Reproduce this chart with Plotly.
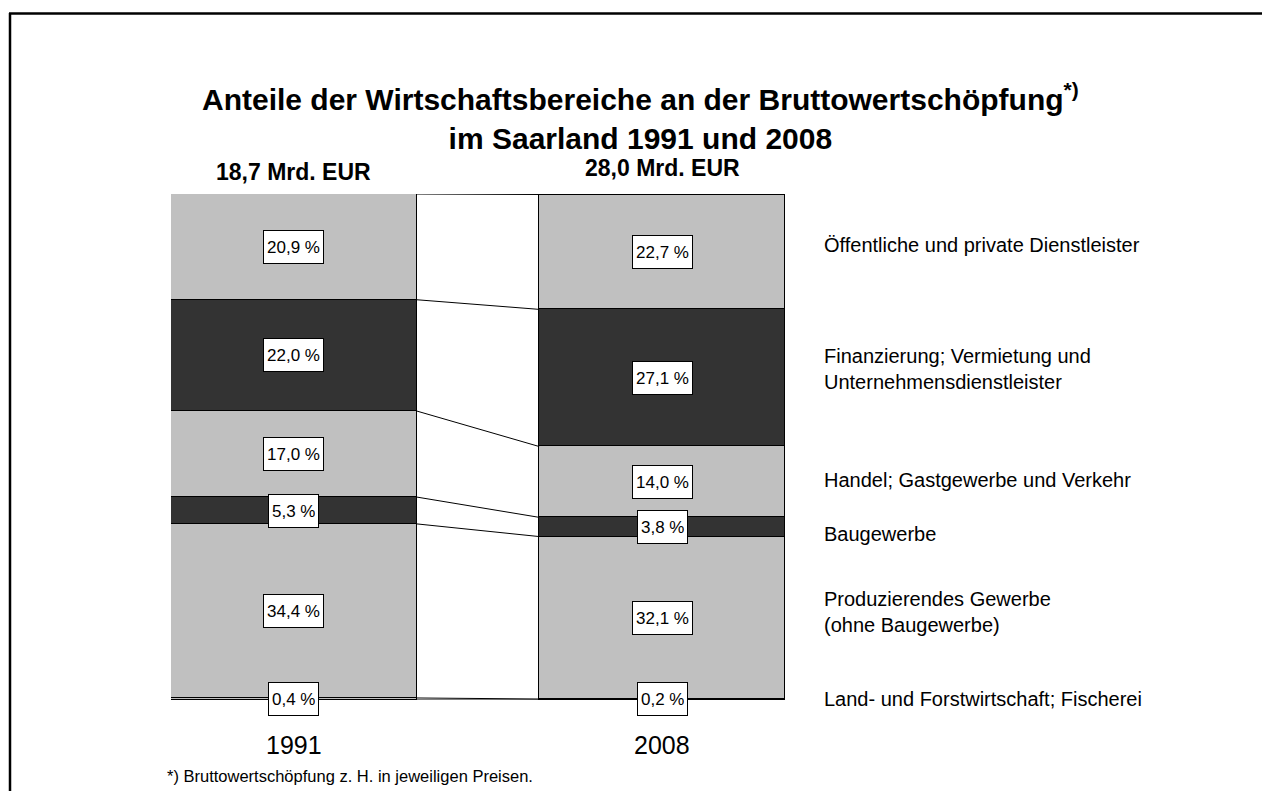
import plotly.graph_objects as go

# ---- data ----
years = ["1991", "2008"]
totals = ["18,7 Mrd. EUR", "28,0 Mrd. EUR"]
sectors = [
    "Land- und Forstwirtschaft; Fischerei",
    "Produzierendes Gewerbe<br>(ohne Baugewerbe)",
    "Baugewerbe",
    "Handel; Gastgewerbe und Verkehr",
    "Finanzierung; Vermietung und<br>Unternehmensdienstleister",
    "Öffentliche und private Dienstleister",
]
share_1991 = [0.4, 34.4, 5.3, 17.0, 22.0, 20.9]
share_2008 = [0.2, 32.1, 3.8, 14.0, 27.1, 22.7]
sector_colors = ["#C0C0C0", "#C0C0C0", "#333333", "#C0C0C0", "#333333", "#C0C0C0"]
label_yshift = [0, 6, -7, 2, 9, 7]  # fine placement of the sector names (pixels)
footnote = "*) Bruttowertschöpfung z. H. in jeweiligen Preisen."

# ---- layout geometry (screen pixels; page body adds an 8px offset) ----
W, H = 1254, 783
OFF = 8
ML, MT = 171 - OFF, 194 - OFF
PW, PH = 614, 506
MR, MB = W - ML - PW, H - MT - PH
BAR_W = 0.668
FONT = "Liberation Sans, Arial, sans-serif"


def px_x(px):
    return (px - OFF - ML) / PW


def px_y(py):
    return (MT + PH - (py - OFF)) / PH


def fmt(v):
    return f"{v:.1f}".replace(".", ",") + " %"


fig = go.Figure()
xs = [0, 1]
series = [share_1991, share_2008]

# stacked bars
for i, name in enumerate(sectors):
    fig.add_trace(go.Bar(
        x=xs, y=[share_1991[i], share_2008[i]], width=BAR_W,
        marker=dict(color=sector_colors[i], line=dict(color="#000000", width=1.5)),
        name=name, showlegend=False, hoverinfo="skip",
    ))

# connector lines between the bars
cum = [[0.0], [0.0]]
for k in range(2):
    for v in series[k]:
        cum[k].append(cum[k][-1] + v)
for j in range(len(sectors) + 1):
    fig.add_trace(go.Scatter(
        x=[BAR_W / 2, 1 - BAR_W / 2], y=[cum[0][j], cum[1][j]],
        mode="lines", line=dict(color="#000000", width=1),
        showlegend=False, hoverinfo="skip",
    ))

annotations = []
# value labels
for k in range(2):
    for i, v in enumerate(series[k]):
        yc = cum[k][i] + v / 2
        annotations.append(dict(
            x=xs[k], y=yc, xref="x", yref="y", text=fmt(v), showarrow=False,
            xanchor="center", yanchor="middle", height=26,
            font=dict(family=FONT, size=17, color="#000000"),
            bgcolor="#FFFFFF", bordercolor="#000000", borderwidth=1, borderpad=3,
        ))

# sector names on the right (aligned to 2008 segments)
for i, name in enumerate(sectors):
    yc = cum[1][i] + share_2008[i] / 2
    annotations.append(dict(
        x=px_x(822), y=yc, xref="paper", yref="y", text=name, showarrow=False,
        xanchor="left", yanchor="middle", align="left", yshift=label_yshift[i],
        font=dict(family=FONT, size=20, color="#000000"),
    ))

# totals above bars
for k, t in enumerate(totals):
    annotations.append(dict(
        x=xs[k], y=px_y(172 - 4 * k), xref="x", yref="paper", text=f"<b>{t}</b>",
        showarrow=False, xanchor="center", yanchor="middle",
        font=dict(family=FONT, size=23, color="#000000"),
    ))

# year labels
for k, yr in enumerate(years):
    annotations.append(dict(
        x=xs[k], y=px_y(745), xref="x", yref="paper", text=yr, showarrow=False,
        xanchor="center", yanchor="middle",
        font=dict(family=FONT, size=25, color="#000000"),
    ))

# title
annotations.append(dict(
    x=px_x(640), y=px_y(116), xref="paper", yref="paper",
    text="<b>Anteile der Wirtschaftsbereiche an der Bruttowertschöpfung<sup>*)</sup></b><br><b>im Saarland 1991 und 2008</b>",
    showarrow=False, xanchor="center", yanchor="middle",
    font=dict(family=FONT, size=30, color="#000000"),
))

# footnote
annotations.append(dict(
    x=px_x(165), y=px_y(776), xref="paper", yref="paper", text=footnote,
    xanchor="left", yanchor="middle", showarrow=False,
    font=dict(family=FONT, size=16.5, color="#000000"),
))

# outer frame (top and left edges)
shapes = [
    dict(type="line", xref="paper", yref="paper", x0=px_x(10), x1=px_x(10),
         y0=px_y(13), y1=px_y(820), line=dict(color="#000000", width=2.5)),
    dict(type="line", xref="paper", yref="paper", x0=px_x(9), x1=px_x(1290),
         y0=px_y(13.5), y1=px_y(13.5), line=dict(color="#000000", width=2.5)),
]

fig.update_layout(
    width=W, height=H,
    margin=dict(l=ML, r=MR, t=MT, b=MB, autoexpand=False),
    paper_bgcolor="#FFFFFF", plot_bgcolor="#FFFFFF",
    barmode="stack", bargap=0,
    xaxis=dict(range=[-BAR_W / 2, 1 + BAR_W / 2], showticklabels=False, showgrid=False,
               zeroline=False, showline=False, fixedrange=True),
    yaxis=dict(range=[0, 100], showticklabels=False, showgrid=False, zeroline=False,
               showline=False, fixedrange=True),
    annotations=annotations, shapes=shapes, showlegend=False,
)

fig.write_html("out.html")
